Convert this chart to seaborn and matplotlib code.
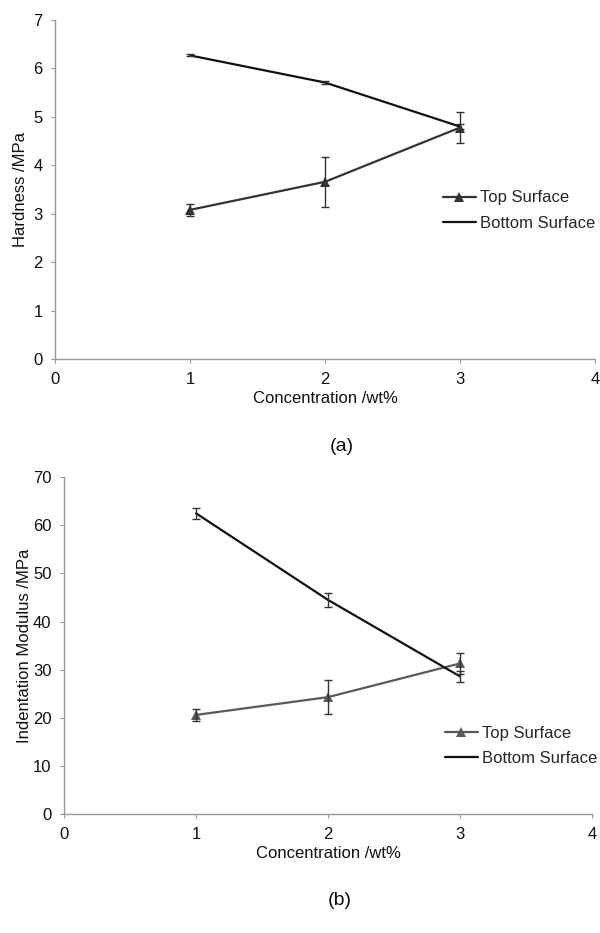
import seaborn as sns
import matplotlib.pyplot as plt

conc = [1, 2, 3]

# hardness (MPa)
hard_top = [3.08, 3.66, 4.78]
hard_top_err = [0.13, 0.52, 0.32]
hard_bot = [6.27, 5.71, 4.80]
hard_bot_err = [0.02, 0.03, 0.05]

# indentation modulus (MPa)
mod_top = [20.6, 24.3, 31.3]
mod_top_err = [1.2, 3.6, 2.1]
mod_bot = [62.5, 44.5, 28.6]
mod_bot_err = [1.2, 1.4, 1.2]

sns.set_style('white')
plt.rcParams['font.family'] = ['Liberation Sans', 'DejaVu Sans']

fig = plt.figure(figsize=(6, 9.33), dpi=100)
ax1 = fig.add_axes([0.0917, 0.6152, 0.9, 0.3633])
ax2 = fig.add_axes([0.1067, 0.1275, 0.88, 0.361])


def panel(ax, top, top_err, bot, bot_err, top_col, ymax, ystep, ylabel,
          tag, tag_x, leg_x, leg_y, ylpad):
    sns.lineplot(x=conc, y=top, color=top_col, marker='^', markersize=7.5,
                 markeredgewidth=0, linewidth=1.6, label='Top Surface', ax=ax)
    sns.lineplot(x=conc, y=bot, color='#111111', linewidth=1.6,
                 label='Bottom Surface', ax=ax)
    ax.errorbar(conc, top, yerr=top_err, fmt='none', ecolor='#333333',
                elinewidth=1, capsize=3.2, capthick=1)
    ax.errorbar(conc, bot, yerr=bot_err, fmt='none', ecolor='#333333',
                elinewidth=1, capsize=3.2, capthick=1)
    ax.set_xlim(0, 4)
    ax.set_ylim(0, ymax)
    ax.set_xticks([0, 1, 2, 3, 4])
    ax.set_yticks(range(0, ymax + 1, ystep))
    for s in ['top', 'right']:
        ax.spines[s].set_visible(False)
    for s in ['left', 'bottom']:
        ax.spines[s].set_color('#999999')
        ax.spines[s].set_linewidth(1)
    ax.tick_params(axis='both', colors='#999999', labelcolor='#111111',
                   labelsize=12, length=3, pad=6, direction='out',
                   bottom=True, left=True)
    ax.set_xlabel('Concentration /wt%', fontsize=12, color='#111111', labelpad=3)
    ax.set_ylabel(ylabel, fontsize=12, color='#111111', labelpad=ylpad)
    ax.text(tag_x, -0.258, tag, transform=ax.transAxes, ha='center',
            va='center', fontsize=14, color='#111111')
    handles, labels = ax.get_legend_handles_labels()
    ax.legend(handles, labels, loc='center left', bbox_to_anchor=(leg_x, leg_y),
              frameon=False, fontsize=12, handlelength=1.95, borderpad=0,
              handletextpad=0.25, labelspacing=0.62, borderaxespad=0)


panel(ax1, hard_top, hard_top_err, hard_bot, hard_bot_err, '#333333',
      7, 1, 'Hardness /MPa', '(a)', 0.531, 0.7185, 0.438, 4)
panel(ax2, mod_top, mod_top_err, mod_bot, mod_bot_err, '#5a5a5a',
      70, 10, 'Indentation Modulus /MPa', '(b)', 0.523, 0.7216, 0.203, 1)

fig.savefig('out.png', dpi=100)
